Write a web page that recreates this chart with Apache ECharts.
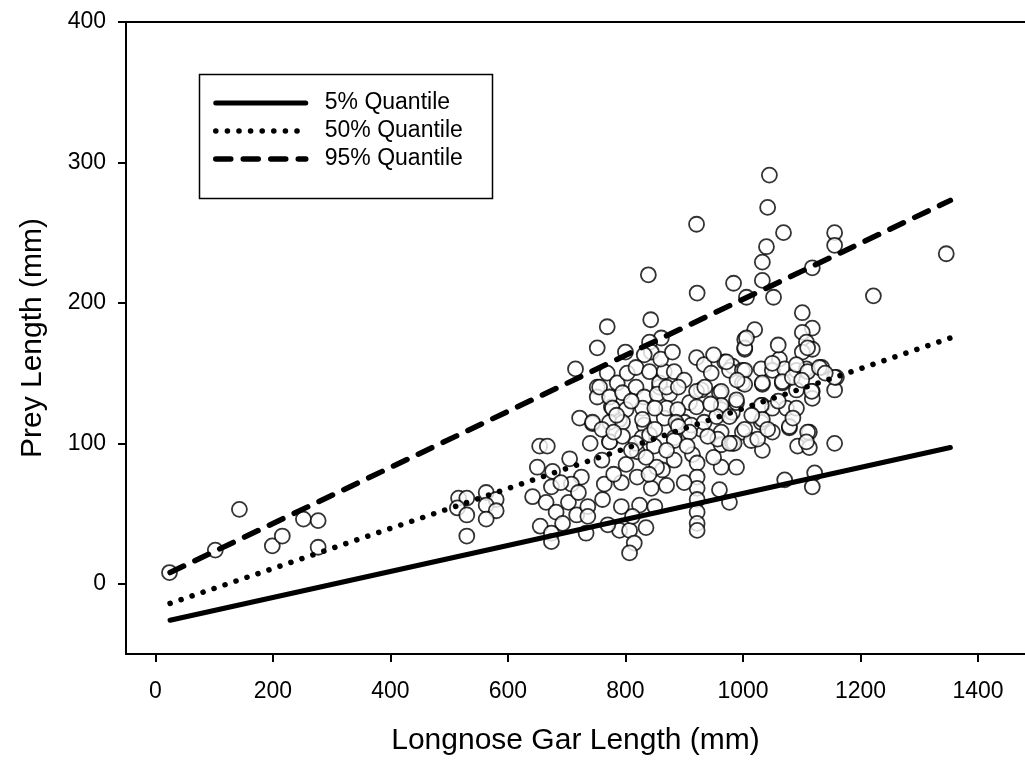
<!DOCTYPE html>
<html>
<head>
<meta charset="utf-8">
<script src="https://cdn.jsdelivr.net/npm/echarts@6/dist/echarts.min.js"></script>
<style>
html,body{margin:0;padding:0;background:#fff;}
#chart{width:1025px;height:761px;}
</style>
</head>
<body>
<div id="chart"></div>
<script>
// ---- data ----
const garLength = [
 24,102,143,199,216,252,277,277,
 516,530,514,530,530,563,580,563,580,563,
 921,839,922,984,843,769,752,861,841,844,832,715,921,934,969,982,
 1045,1042,1069,1040,1033,1033,1006,1052,1156,1156,1118,1346,1222,1101,1118,1101,1108,1118,1101,1020,1003,1003,1062,1134,977,999,1031,1050,1071,1091,1108,
 654,667,722,744,752,752,650,676,705,725,708,674,642,665,682,703,693,655,674,674,717,736,736,733,761,764,773,776,790,793,793,790,807,815,807,801,820,820,832,828,844,824,812,863,853,849,866,858,883,883,909,900,914,922,922,922,922,922,922,922,929,929,960,963,963,963,963,960,977,982,982,
 999,1033,989,1033,1050,1074,1091,1067,1091,1118,1118,1156,1159,1031,1050,1079,999,1014,1033,985,989,1093,1113,1113,1071,1122,1118,
 1003,1006,1110,
 756,769,786,803,818,841,858,866,883,900,946,921,972,1003,1003,1033,1050,1067,1084,1091,1110,1130,1117,1156,
 773,795,818,832,854,875,963,963,989,1031,778,801,829,870,889,921,
 744,773,795,829,886,912,934,955,977,1003,1033,1079,1110,773,795,818,841,883,909,957,977,1025,1042,1108,1156,
 760,780,810,835,850,870,890,905,940,950,945,870,890,810,785,850,935,990,1015,1060,1085,1100,1140,800,860,880,950,1060,740,760,780,840,870,900,690,720,770,835,850
];
const preyLength = [
 8,24,53,27,34,46,45,26,
 61,61,54,49,34,65,60,56,52,46,
 256,220,207,214,188,183,168,175,172,165,163,153,161,156,158,155,
 291,268,250,240,229,216,204,204,250,241,225,235,205,193,182,179,172,167,165,181,174,167,160,154,152,152,153,152,153,152,153,
 98,98,118,114,140,133,83,80,89,76,71,69,62,58,51,58,43,41,36,30,49,55,48,36,60,71,101,126,117,72,55,38,38,29,22,85,76,94,113,104,68,56,48,81,83,98,118,140,88,104,129,115,92,86,76,68,60,51,43,38,138,110,136,124,108,99,83,67,58,100,122,
 143,142,129,127,125,125,125,143,138,137,132,138,147,115,108,111,108,102,95,100,83,98,97,108,74,79,69,
 168,175,168,
 140,150,143,150,154,151,143,151,151,145,150,137,158,152,142,143,157,144,147,156,151,154,137,147,
 133,136,140,133,135,135,137,127,131,127,125,124,125,125,124,126,
 115,115,115,117,115,113,115,119,119,110,117,112,108,101,105,100,106,102,108,103,100,103,110,101,100,
 110,108,95,90,110,95,112,98,105,90,128,140,140,130,120,125,140,145,120,130,118,145,150,165,160,165,163,170,100,88,78,78,70,72,72,65,42,40,55
];
const xTicks = [0,200,400,600,800,1000,1200,1400];
const yTicks = [0,100,200,300,400];
const seriesNames = ['5% Quantile','50% Quantile','95% Quantile'];
const quantileX = [25,1353];
const q5 = [-26,97];
const q50 = [-14,175];
const q95 = [8,273];

// ---- build ----
const FONT = '"Liberation Sans", Arial, sans-serif';
const pts = garLength.map((g,i)=>[g, preyLength[i]]);
const lineData = ys => quantileX.map((x,i)=>[x, ys[i]]);
const styles = [
  {color:'#000', width:5, type:'solid', cap:'round'},
  {color:'#000', width:5.5, type:[0.1,11.5], cap:'round'},
  {color:'#000', width:5.5, type:[15,12.5], cap:'round'}
];

const chart = echarts.init(document.getElementById('chart'));
chart.setOption({
  animation:false,
  backgroundColor:'#fff',
  grid:{left:126, top:22, right:0, bottom:107},
  graphic:[{type:'rect', left:197, top:72, shape:{x:0,y:0,width:293,height:124},
    style:{fill:'none', stroke:'#000', lineWidth:1.5}, z:10}],
  legend:{
    data:seriesNames.map((n,i)=>({name:n, lineStyle:Object.assign({}, styles[i])})),
    orient:'vertical', left:213, top:89, padding:0,
    itemWidth:90, itemHeight:14, itemGap:0,
    itemStyle:{opacity:0},
    textStyle:{fontFamily:FONT, fontSize:23, color:'#000', lineHeight:28, padding:[0,0,0,14]}
  },
  xAxis:[{
    type:'value', min:-50, max:1480, position:'bottom',
    axisLine:{onZero:false, lineStyle:{color:'#000', width:2}},
    axisTick:{show:true, length:8, customValues:xTicks, lineStyle:{color:'#000', width:2}},
    axisLabel:{customValues:xTicks, formatter:v=>String(v), fontFamily:FONT, fontSize:23, color:'#000', margin:26},
    splitLine:{show:false},
    name:'Longnose Gar Length (mm)', nameLocation:'middle', nameGap:72,
    nameTextStyle:{fontFamily:FONT, fontSize:30, color:'#000'}
  },{
    type:'value', min:-50, max:1480, position:'top',
    axisLine:{show:true, onZero:false, lineStyle:{color:'#000', width:2}},
    axisTick:{show:false}, axisLabel:{show:false}, splitLine:{show:false}
  }],
  yAxis:{
    type:'value', min:-50, max:400,
    axisLine:{show:true, onZero:false, lineStyle:{color:'#000', width:2}},
    axisTick:{show:true, length:8, customValues:yTicks, lineStyle:{color:'#000', width:2}},
    axisLabel:{customValues:yTicks, formatter:v=>String(v), fontFamily:FONT, fontSize:23, color:'#000', margin:20},
    splitLine:{show:false},
    name:'Prey Length (mm)', nameLocation:'middle', nameGap:78, nameRotate:90,
    nameTextStyle:{fontFamily:FONT, fontSize:30, color:'#000'}
  },
  series:[
    {type:'scatter', name:'data', data:pts, symbol:'circle', symbolSize:15,
     itemStyle:{color:'#fff', borderColor:'#000', borderWidth:1.8}, z:2},
    {type:'line', name:seriesNames[0], data:lineData(q5), symbol:'none', showSymbol:false,
     lineStyle:styles[0], itemStyle:{color:'#000'}, z:3},
    {type:'line', name:seriesNames[1], data:lineData(q50), symbol:'none', showSymbol:false,
     lineStyle:styles[1], itemStyle:{color:'#000'}, z:3},
    {type:'line', name:seriesNames[2], data:lineData(q95), symbol:'none', showSymbol:false,
     lineStyle:styles[2], itemStyle:{color:'#000'}, z:3}
  ]
});
</script>
</body>
</html>
